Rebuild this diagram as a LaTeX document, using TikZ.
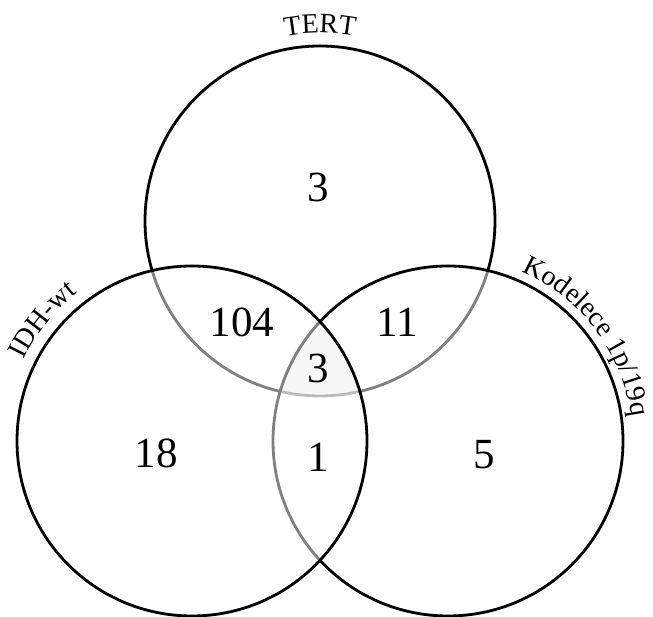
\documentclass[tikz,border=0pt]{standalone}
\usepackage{fontspec}
\setmainfont{Liberation Serif}
\usetikzlibrary{decorations.text}
\newcommand{\numfont}{\fontsize{43}{50}\selectfont}
\newcommand{\lblfont}{\fontsize{28}{32}\selectfont}

\begin{document}
\begin{tikzpicture}[x=1pt,y=1pt,
  set/.style={draw=black,line width=2.8pt,fill=white,fill opacity=0.5},
  num/.style={font=\numfont,inner sep=0pt},
  lbl/.style={decorate,decoration={text along path,text align=center,text={|\lblfont|#1}}}]
  \useasboundingbox (0,0) rectangle (653,617);

  \coordinate (T) at (320,396);
  \coordinate (K) at (448,176);
  \coordinate (I) at (192,176);

  \draw[line width=2.8pt] (T) circle[radius=175pt];
  \draw[set] (K) circle[radius=175pt];
  \draw[set] (I) circle[radius=175pt];
  \begin{scope}
    \clip (T) circle[radius=175pt];
    \clip (K) circle[radius=175pt];
    \fill[black,fill opacity=0.03] (I) circle[radius=175pt];
  \end{scope}

  \path[lbl=TERT] ([shift={(140:188pt)}]T) arc[start angle=140,end angle=40,radius=188pt];
  \path[lbl=IDH-wt] ([shift={(191:187pt)}]I) arc[start angle=191,end angle=91,radius=187pt];
  \path[lbl={Kodelece 1p/19q}] ([shift={(97:185pt)}]K) arc[start angle=97,end angle=-23,radius=185pt];

  \node[num] (t) at (318,430) {3};
  \node[num] (ti) at (242,295) {104};
  \node[num] (tk) at (397,295) {11};
  \node[num] (tik) at (318,249) {3};
  \node[num] (i) at (156,164) {18};
  \node[num] (ik) at (318,160) {1};
  \node[num] (k) at (484,162) {5};
\end{tikzpicture}
\end{document}
